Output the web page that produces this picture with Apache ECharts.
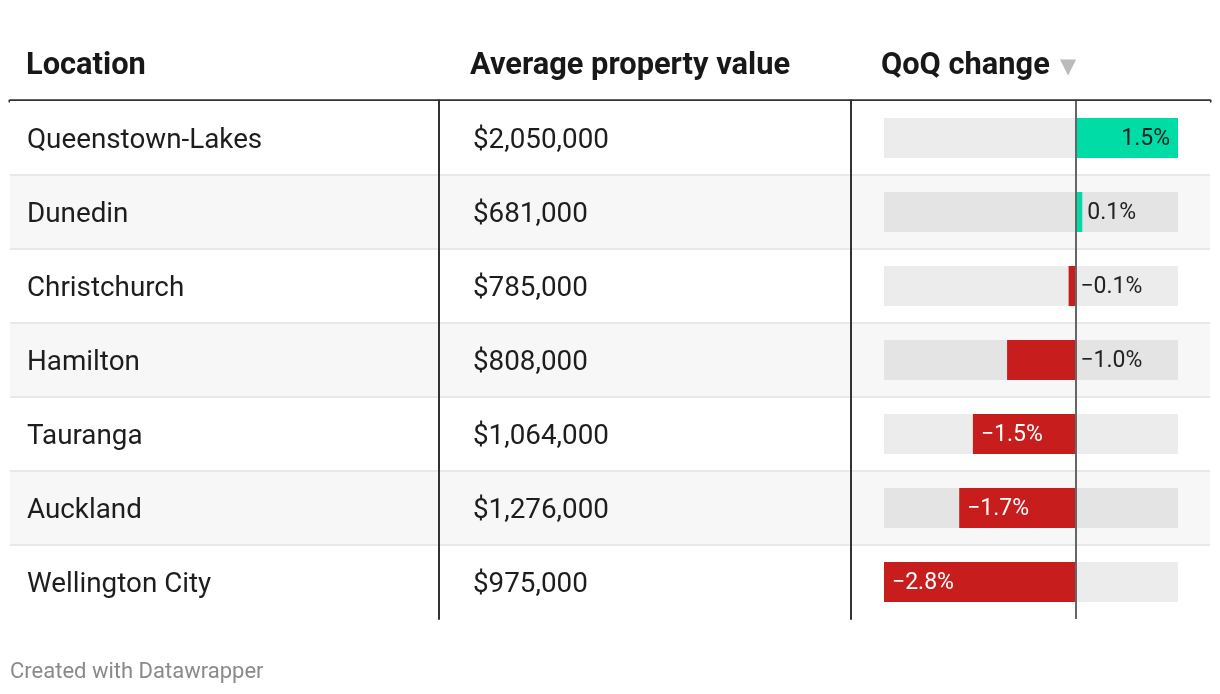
<!DOCTYPE html>
<html>
<head>
<meta charset="utf-8">
<script src="https://cdn.jsdelivr.net/npm/echarts@6/dist/echarts.min.js"></script>
<style>
  html, body { margin: 0; padding: 0; background: #fff; }
  #chart { width: 1220px; height: 694px; }
</style>
</head>
<body>
<div id="chart"></div>
<script>
// ---- data ----
const locations = ['Queenstown-Lakes', 'Dunedin', 'Christchurch', 'Hamilton', 'Tauranga', 'Auckland', 'Wellington City'];
const propertyValues = [2050000, 681000, 785000, 808000, 1064000, 1276000, 975000];
const qoqChange = [1.5, 0.1, -0.1, -1.0, -1.5, -1.7, -2.8];
const headers = ['Location', 'Average property value', 'QoQ change'];
const footerText = 'Created with Datawrapper';

// ---- helpers ----
const FONT = 'Roboto';
const fmtMoney = v => '$' + v.toLocaleString('en-US');
const fmtPct = v => (v < 0 ? '\u2212' : '') + Math.abs(v).toFixed(1) + '%';
const GREEN = '#00dca6', RED = '#c71e1d';

const gridTop = 101, rowsH = 518;
const rowArea = ['#ffffff', '#f7f7f7'];
const sepLine = { show: true, showMinLine: false, showMaxLine: false, lineStyle: { color: '#e8e8e8', width: 2 } };

function tableCol(gridIndex, showLine, labels, margin) {
  return {
    type: 'category', gridIndex, inverse: true, data: labels || locations,
    axisLine: { show: showLine, onZero: false, lineStyle: { color: '#333', width: 2 } },
    axisTick: { show: false },
    axisLabel: labels ? {
      show: true, interval: 0, align: 'left', margin: margin,
      formatter: v => '{t|' + v + '}',
      rich: { t: { fontFamily: FONT, fontSize: 27.8, color: '#1d1d1d', padding: [6, 0, 0, 0] } }
    } : { show: false },
    splitArea: { show: true, areaStyle: { color: rowArea } },
    splitLine: sepLine,
    z: 1
  };
}
function headerX(gridIndex) {
  return {
    type: 'value', gridIndex, position: 'top', min: 0, max: 1,
    axisLine: { show: true, onZero: false, lineStyle: { color: '#333', width: 3.5 } },
    axisTick: { show: false }, axisLabel: { show: false }, splitLine: { show: false }
  };
}

const barData = qoqChange.map(v => {
  let pos, color, dist;
  if (v >= 1.2) { pos = 'insideRight'; color = '#222'; dist = 8; }
  else if (v <= -1.2) { pos = 'insideLeft'; color = '#fff'; dist = 8; }
  else { pos = 'right'; color = '#222'; dist = 5; }
  return {
    value: v,
    itemStyle: { color: v >= 0 ? GREEN : RED },
    label: {
      show: true, position: pos, distance: dist,
      formatter: '{p|' + fmtPct(v) + '}',
      rich: { p: { fontFamily: FONT, fontSize: 23, color, padding: [3, 0, 0, 0] } }
    }
  };
});

const headStyle = { fontFamily: FONT, fontSize: 30.8, fontWeight: 'bold', color: '#181818' };
const option = {
  animation: false,
  backgroundColor: '#fff',
  title: [
    { text: headers[0], left: 21, top: 46, textStyle: headStyle },
    { text: headers[1], left: 465, top: 46, textStyle: headStyle },
    { text: headers[2], left: 876, top: 46, textStyle: headStyle },
    { text: '\u25BC', left: 1055, top: 52, textStyle: { fontFamily: 'DejaVu Sans', fontSize: 21, fontWeight: 'normal', color: '#bbbbbb' } },
    { text: footerText, left: 5, top: 656, textStyle: { fontFamily: FONT, fontSize: 22, fontWeight: 'normal', color: '#8a8a8a' } }
  ],
  grid: [
    { left: 10, width: 429, top: gridTop, height: rowsH },
    { left: 439, width: 412, top: gridTop, height: rowsH },
    { left: 851, width: 359, top: gridTop, height: rowsH },
    { left: 884, width: 294, top: gridTop, height: rowsH }
  ],
  xAxis: [
    headerX(0), headerX(1), headerX(2),
    { type: 'value', gridIndex: 3, min: -2.8, max: 1.5, show: false, splitLine: { show: false } }
  ],
  yAxis: [
    tableCol(0, false, locations, -17),
    tableCol(1, true, propertyValues.map(fmtMoney), -34),
    tableCol(2, true, null, 0),
    { type: 'category', gridIndex: 3, inverse: true, data: locations, show: false }
  ],
  series: [{
    type: 'bar', xAxisIndex: 3, yAxisIndex: 3,
    barWidth: 40,
    data: barData,
    showBackground: true,
    backgroundStyle: { color: 'rgba(0,0,0,0.075)' },
    markLine: {
      silent: true, symbol: 'none',
      label: { show: false },
      lineStyle: { color: '#666', width: 2, type: 'solid' },
      data: [{ xAxis: 0 }]
    },
    z: 3
  }]
};

const chart = echarts.init(document.getElementById('chart'), null, { renderer: 'canvas' });
chart.setOption(option);
</script>
</body>
</html>
